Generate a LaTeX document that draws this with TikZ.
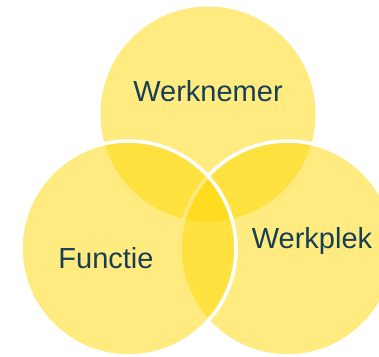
\documentclass[tikz,border=0pt]{standalone}
\usepackage{fontspec}
\setmainfont{Liberation Sans}
\definecolor{venn}{RGB}{255,215,0}
\definecolor{labelc}{RGB}{22,62,85}
\begin{document}
\begin{tikzpicture}[x=1pt,y=-1pt,
  set/.style={circle,minimum size=215pt,inner sep=0pt,fill=venn,fill opacity=0.5},
  setline/.style={set,draw=white,line width=3.5pt,draw opacity=1},
  lbl/.style={anchor=base,text=labelc,font=\fontsize{29}{32}\selectfont,inner sep=0pt}]
\useasboundingbox (0,0) rectangle (379,356);
\node[set] (top) at (208,114) {};
\node[setline] (right) at (287.5,248.5) {};
\node[setline] (left) at (128.5,248.5) {};
\node[lbl] (t1) at (208,101.7) {Werknemer};
\node[lbl] (t2) at (106,268) {Functie};
\node[lbl] (t3) at (312,248) {Werkplek};
\end{tikzpicture}
\end{document}
